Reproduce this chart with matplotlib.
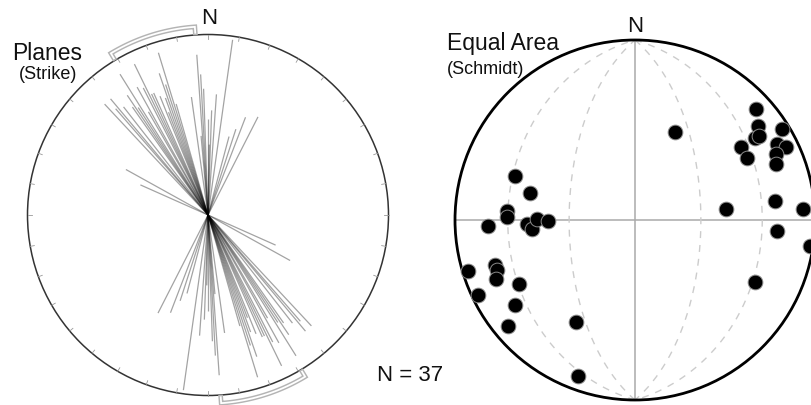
import numpy as np
import matplotlib.pyplot as plt
from matplotlib.patches import Circle

# strike lines for the rose plot (degrees) and their half-lengths (fraction of radius)
strikes = [343, 334, 328, 317, 320, 322, 325, 331, 333, 335, 336, 338, 340, 342,
           327, 330, 339, 344, 326, 319, 341,
           299, 294,
           356, 358, 352, 4, 2, 0, 355, 8, 357, 1,
           15, 21, 27, 18]
lengths = [0.94, 0.93, 0.92, 0.84, 0.84, 0.76, 0.73, 0.81, 0.79, 0.74, 0.74, 0.71, 0.69, 0.76,
           0.71, 0.66, 0.61, 0.64, 0.80, 0.78, 0.83,
           0.52, 0.41,
           0.89, 0.70, 0.66, 0.67, 0.58, 0.53, 0.44, 0.98, 0.78, 0.39,
           0.45, 0.58, 0.61, 0.50]

# confidence arcs around the mean strike (degrees)
arc_ranges = [(329, 356), (149, 176)]

# poles to planes: trend / plunge (degrees)
pole_trend = [47.4, 52.6, 55.5, 55.9, 58.2, 55.5, 61.0, 61.8, 64.3, 64.9, 68.3,
              290.2, 284.2, 274.2, 271.4, 267.8, 267.9, 265.0, 270.6, 269.5,
              252.9, 252.3, 250.1, 247.0, 241.0, 244.4,
              24.3, 82.2, 83.1, 86.3, 94.3, 98.4, 117.2, 234.8, 230.0, 210.0, 200.0]
pole_plunge = [9.6, 14.8, 20.2, 17.8, 4.6, 29.4, 29.8, 11.6, 7.6, 14.6, 16.8,
               29.6, 39.6, 29.6, 29.4, 19.2, 39.6, 42.0, 44.6, 49.8,
               3.6, 19.4, 19.4, 17.2, 27.4, 3.8,
               45.2, 22.6, 47.8, 7.0, 21.8, 2.0, 26.0, 19.4, 9.0, 34.8, 8.8]

W, H = 811, 406
plt.rcParams['font.family'] = ['Liberation Sans', 'DejaVu Sans']
fig = plt.figure(figsize=(W / 100, H / 100), dpi=100)


def net_axes(cx, cy, r, pad=1.12):
    ax = fig.add_axes([(cx - pad * r) / W, (H - cy - pad * r) / H,
                       2 * pad * r / W, 2 * pad * r / H])
    ax.set_xlim(-pad, pad)
    ax.set_ylim(-pad, pad)
    ax.set_aspect('equal')
    ax.axis('off')
    return ax


def schmidt(trend, plunge):
    t = np.radians(trend)
    r = np.sqrt(2) * np.sin(np.radians(90 - np.asarray(plunge)) / 2)
    return r * np.sin(t), r * np.cos(t)


def great_circle(strike, dip):
    s, d = np.radians(strike), np.radians(dip)
    t = np.linspace(0, np.pi, 181)
    e = np.cos(t) * np.sin(s) + np.sin(t) * np.cos(d) * np.sin(s + np.pi / 2)
    n = np.cos(t) * np.cos(s) + np.sin(t) * np.cos(d) * np.cos(s + np.pi / 2)
    down = np.sin(t) * np.sin(d)
    return schmidt(np.degrees(np.arctan2(e, n)), np.degrees(np.arcsin(down)))


def ftext(x, y, s, **kw):
    fig.text(x / W, 1 - y / H, s, color='#111111', **kw)


# ---- rose of strikes ----
ax1 = net_axes(208, 216, 180.5)
ax1.add_patch(Circle((0, 0), 1, fill=False, ec='#333333', lw=1.1))
for a in range(0, 360, 10):
    t = np.radians(a)
    ax1.plot([0.977 * np.sin(t), np.sin(t)], [0.977 * np.cos(t), np.cos(t)],
             color='#999999', lw=0.6)

for s, L in zip(strikes, lengths):
    t = np.radians(s)
    dx, dy = L * np.sin(t), L * np.cos(t)
    ax1.plot([-dx, dx], [-dy, dy], color='k', alpha=0.36, lw=0.9,
             solid_capstyle='butt')

for a0, a1 in arc_ranges:
    t = np.radians(np.linspace(a0, a1, 80))
    rr = np.r_[1.012, np.full(len(t), 1.045), 1.012]
    tt = np.r_[t[0], t, t[-1]]
    ax1.plot(rr * np.sin(tt), rr * np.cos(tt), color='#b4b4b4', lw=3.4,
             solid_joinstyle='miter')
    ax1.plot(rr * np.sin(tt), rr * np.cos(tt), color='white', lw=1.3,
             solid_joinstyle='miter')

ftext(209.5, 24, 'N', fontsize=16, ha='center', va='baseline')
ftext(12, 60, 'Planes', fontsize=16.5, ha='left', va='baseline')
ftext(19, 79, '(Strike)', fontsize=13, ha='left', va='baseline')
ftext(377, 381, 'N = 37', fontsize=16, ha='left', va='baseline')

# ---- equal-area net with poles ----
ax2 = net_axes(635, 221, 180)
ax2.plot([-1, 1], [0, 0], color='#aaaaaa', lw=1.1)
ax2.plot([0, 0], [-1, 1], color='#aaaaaa', lw=1.1)
for strike in (0, 180):
    for dip in (30, 60):
        gx, gy = great_circle(strike, dip)
        ax2.plot(gx, gy, color='#cccccc', lw=1.0, ls=(0, (5, 5)))
ax2.add_patch(Circle((0, 0), 1, fill=False, ec='black', lw=2.0, zorder=3))

px, py = schmidt(pole_trend, pole_plunge)
ax2.plot(px, py, 'o', ms=10.6, mfc='black', mec='#8a8a8a', mew=0.7, zorder=4)

ftext(635, 32, 'N', fontsize=16, ha='center', va='baseline')
ftext(447, 50, 'Equal Area', fontsize=16.5, ha='left', va='baseline')
ftext(447, 74, '(Schmidt)', fontsize=13, ha='left', va='baseline')

fig.savefig('out.png', dpi=100, facecolor='white')
